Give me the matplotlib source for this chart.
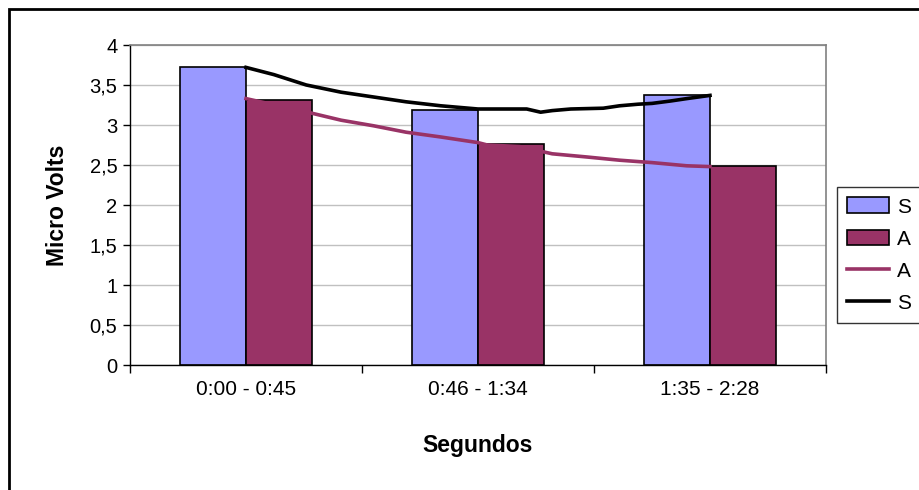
import matplotlib.pyplot as plt
import numpy as np
from matplotlib.lines import Line2D
from matplotlib.patches import Patch, Rectangle

plt.rcParams['font.family'] = ['Liberation Sans', 'DejaVu Sans']

# 数据
categories = ['0:00 - 0:45', '0:46 - 1:34', '1:35 - 2:28']
bar_s = [3.72, 3.19, 3.375]
bar_a = [3.31, 2.76, 2.49]

# 线（x 为类别位置）
line_s_x = [0, 0.12, 0.26, 0.41, 0.55, 0.69, 0.84, 1.0, 1.21, 1.27, 1.32,
            1.40, 1.54, 1.61, 1.69, 1.75, 1.83, 1.90, 2.0]
line_s_y = [3.72, 3.63, 3.50, 3.41, 3.35, 3.29, 3.24, 3.20, 3.20, 3.16, 3.18,
            3.20, 3.21, 3.24, 3.26, 3.27, 3.30, 3.33, 3.37]
line_a_x = [0, 0.28, 0.41, 0.55, 0.69, 0.84, 1.0, 1.04, 1.18, 1.32, 1.47,
            1.61, 1.75, 1.90, 2.0]
line_a_y = [3.33, 3.15, 3.06, 2.99, 2.91, 2.85, 2.78, 2.75, 2.73, 2.64, 2.60,
            2.56, 2.53, 2.49, 2.48]

legend_labels = ['S', 'A', 'A', 'S']

BLUE = '#9999FF'
MAROON = '#993366'

fig = plt.figure(figsize=(9.19, 4.9), dpi=100)
ax = fig.add_axes([130 / 919, 1 - 365 / 490, 696 / 919, 320 / 490])

x = np.arange(len(categories))
w = 0.285
ax.bar(x - w / 2, bar_s, w, color=BLUE, edgecolor='black', linewidth=1.2, zorder=2)
ax.bar(x + w / 2, bar_a, w, color=MAROON, edgecolor='black', linewidth=1.2, zorder=2)
ax.plot(line_a_x, line_a_y, color=MAROON, linewidth=2.6, zorder=3)
ax.plot(line_s_x, line_s_y, color='black', linewidth=2.6, zorder=4)

ax.set_xlim(-0.5, 2.5)
ax.set_ylim(0, 4)
ax.set_yticks(np.arange(0, 4.01, 0.5))
ax.set_yticklabels([f'{v:g}'.replace('.', ',') for v in np.arange(0, 4.01, 0.5)])
ax.set_xticks([-0.5, 0.5, 1.5, 2.5])
ax.set_xticklabels([])
ax.set_xticks(x, minor=True)
ax.set_xticklabels(categories, minor=True)
ax.tick_params(axis='x', which='minor', length=0, pad=11, labelsize=15)
ax.tick_params(axis='x', which='major', length=6, width=1, color='black')
ax.tick_params(axis='y', length=5, width=1, pad=4, labelsize=14.5)

ax.grid(axis='y', color='#C0C0C0', linewidth=1, zorder=0)
ax.set_axisbelow(True)
for s in ['top', 'right']:
    ax.spines[s].set_color('#808080')
    ax.spines[s].set_linewidth(1.2)
for s in ['left', 'bottom']:
    ax.spines[s].set_color('black')
    ax.spines[s].set_linewidth(1)

ax.set_ylabel('Micro Volts', fontsize=16.5, fontweight='bold')
ax.yaxis.set_label_coords(-0.088, 0.5)
ax.set_xlabel('Segundos', fontsize=16.5, fontweight='bold')
ax.xaxis.set_label_coords(0.5, -0.215)

handles = [
    Patch(facecolor=BLUE, edgecolor='black', linewidth=1.2),
    Patch(facecolor=MAROON, edgecolor='black', linewidth=1.2),
    Line2D([], [], color=MAROON, linewidth=2.6),
    Line2D([], [], color='black', linewidth=2.6),
]
leg = fig.legend(handles, legend_labels, loc='upper left',
                 bbox_to_anchor=(837 / 919, 1 - 187 / 490 - 0.01, 0.2, 0.01),
                 mode='expand', fontsize=15, frameon=True, fancybox=False,
                 edgecolor='black', handlelength=2.0, handleheight=0.8,
                 labelspacing=0.62, borderpad=0.5, handletextpad=0.4,
                 borderaxespad=0)
leg.get_frame().set_linewidth(1)

# 外框
fig.add_artist(Rectangle((9 / 919, -0.2), 1.2, 1 - 9 / 490 + 0.2,
                         transform=fig.transFigure, fill=False,
                         edgecolor='black', linewidth=2))

fig.savefig('out.png', dpi=100)
